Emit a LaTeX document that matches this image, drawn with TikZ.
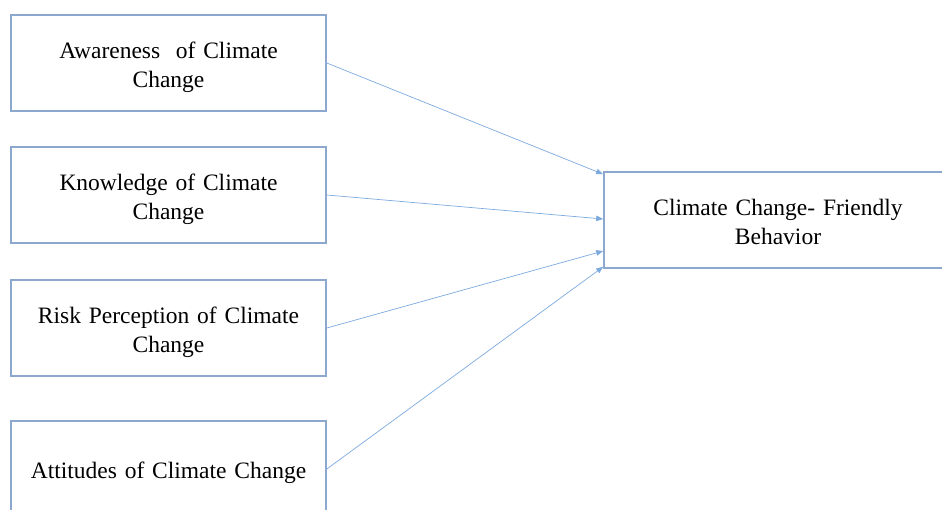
\documentclass[tikz,border=0pt]{standalone}
\usepackage{fontspec}
\setmainfont{Liberation Serif}
\usetikzlibrary{arrows.meta}
\definecolor{borde}{RGB}{140,168,206}
\definecolor{linea}{RGB}{125,170,222}
\tikzstyle{flecha} = [line width=0.7pt, draw=linea, -{Triangle[length=7pt,width=5.5pt]}]
\tikzstyle{factor} = [rectangle,
                      draw=borde,
                      line width=1.6pt,
                      minimum width=315pt,
                      minimum height=96pt,
                      text centered,
                      text width=300pt,
                      text height=25pt,
                      font=\fontsize{23.5}{29}\selectfont]
\tikzstyle{resultado} = [factor,
                         minimum width=348pt,
                         text width=320pt,
                         text height=21pt]

\begin{document}
\begin{tikzpicture}[x=1pt, y=-1pt]
        \useasboundingbox (0,0) rectangle (942,509);
        \node (Conciencia) [factor] at (168.5,63) {Awareness\ \ of Climate\\ Change};
        \node (Conocimiento) [factor] at (168.5,195) {Knowledge of Climate\\ Change};
        \node (Riesgo) [factor] at (168.5,328) {Risk Perception of Climate\\ Change};
        \node (Actitudes) [factor] at (168.5,469) {Attitudes of Climate Change};
        \node (Conducta) [resultado] at (778,220) {Climate Change-\ Friendly\\ Behavior};

        \coordinate (c1) at ([yshift=-3pt]Conducta.north west);
        \coordinate (c2) at ([yshift=1pt]Conducta.west);
        \coordinate (c3) at ([yshift=-31pt]Conducta.west);
        \coordinate (c4) at ([yshift=2pt]Conducta.south west);

        \draw [flecha] (Conciencia.east) -- (c1);
        \draw [flecha] (Conocimiento.east) -- (c2);
        \draw [flecha] (Riesgo.east) -- (c3);
        \draw [flecha] (Actitudes.east) -- (c4);
\end{tikzpicture}
\end{document}
